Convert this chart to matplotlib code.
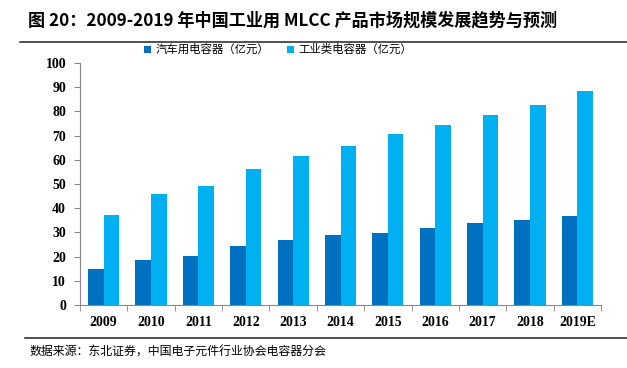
import numpy as np
import matplotlib.pyplot as plt
from matplotlib.lines import Line2D

plt.rcParams['font.family'] = ['Noto Sans CJK SC', 'DejaVu Sans']

years = ['2009', '2010', '2011', '2012', '2013', '2014', '2015', '2016', '2017', '2018', '2019E']
auto_cap = [15.0, 18.6, 20.4, 24.4, 26.9, 29.1, 29.8, 32.0, 33.8, 35.2, 36.7]
ind_cap = [37.2, 45.7, 49.2, 56.1, 61.7, 65.9, 70.6, 74.2, 78.5, 82.5, 88.3]
labels = ['汽车用电容器（亿元）', '工业类电容器（亿元）']
colors = ['#0070C0', '#00B0F0']

fig = plt.figure(figsize=(6.27, 3.68), dpi=100)
ax = fig.add_axes([80/627, 1-305/368, (601-80)/627, (305-63)/368])

x = np.arange(len(years))
w = 0.33
ax.bar(x - w/2, auto_cap, w, color=colors[0], label=labels[0])
ax.bar(x + w/2, ind_cap, w, color=colors[1], label=labels[1])

ax.set_xlim(-0.5, len(years) - 0.5)
ax.set_ylim(0, 100)
ax.set_yticks(range(0, 101, 10))
ax.set_xticks(x)
ax.set_xticklabels(years)
ax.set_xticks(np.arange(-0.5, len(years), 1), minor=True)
ax.tick_params(axis='x', which='major', length=0, pad=8)
ax.tick_params(axis='x', which='minor', length=4, color='#888888')
ax.tick_params(axis='y', length=4, color='#888888', pad=6)
for lab in ax.get_xticklabels() + ax.get_yticklabels():
    lab.set_fontfamily('Liberation Serif')
    lab.set_fontweight('bold')
    lab.set_fontsize(10)

for s in ['top', 'right']:
    ax.spines[s].set_visible(False)
ax.spines['left'].set_color('#888888')
ax.spines['bottom'].set_color('#888888')

ax.legend(loc='center', bbox_to_anchor=(0.38, 1.055), ncol=2, frameon=False,
          fontsize=8.2, handlelength=0.6, handleheight=0.6, columnspacing=1.6,
          handletextpad=0.4)

fig.text(28/627, 1-20/368, '图 20：2009-2019 年中国工业用 MLCC 产品市场规模发展趋势与预测',
         fontsize=12.3, fontweight='bold', va='center', ha='left')
fig.add_artist(Line2D([20/627, 1], [1-42/368, 1-42/368], color='#333333', lw=1.2))
fig.add_artist(Line2D([25/627, 1], [1-338/368, 1-338/368], color='#333333', lw=1.2))
fig.text(29/627, 1-352/368, '数据来源：东北证券，中国电子元件行业协会电容器分会',
         fontsize=8.6, va='center', ha='left')

fig.savefig('out.png', dpi=100)
